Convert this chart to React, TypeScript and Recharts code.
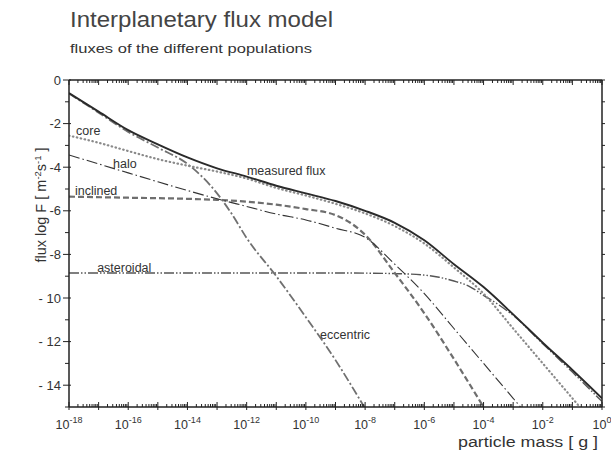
import React from "react";
import { LineChart, Line, XAxis, YAxis, ReferenceDot } from "recharts";

// log10 of particle mass [g] and log10 flux values
const measuredMass = [-18, -17, -16, -15, -14, -13, -12, -11, -10, -9, -8, -7, -6, -5, -4, -3, -2, -1, 0];
const measuredFlux = [-0.6, -1.45, -2.3, -2.95, -3.55, -4.05, -4.43, -4.85, -5.2, -5.55, -6.0, -6.55, -7.35, -8.45, -9.5, -10.75, -12.05, -13.3, -14.6];

const coreMass = [-18, -17, -16, -15, -14, -13, -12, -11, -10, -9, -8, -7, -6, -5, -4, -3, -2, -1, -0.75];
const coreFlux = [-2.55, -2.88, -3.26, -3.63, -3.93, -4.2, -4.52, -4.95, -5.3, -5.68, -6.12, -6.7, -7.5, -8.6, -9.8, -11.4, -13.0, -14.6, -15];

const haloMass = [-18, -17, -16, -15, -14, -13, -12, -11, -10, -9, -8, -7, -6, -5, -4, -3, -2.75];
const haloFlux = [-3.44, -3.85, -4.26, -4.67, -5.07, -5.45, -5.8, -6.15, -6.42, -6.8, -7.22, -8.45, -9.8, -11.4, -13.0, -14.6, -15];

const inclinedMass = [-18, -16, -14, -13, -12, -11, -10, -9, -8.5, -8, -7, -6, -5, -4];
const inclinedFlux = [-5.35, -5.4, -5.45, -5.5, -5.58, -5.72, -5.92, -6.2, -6.55, -7.1, -8.85, -10.7, -12.8, -15];

const asteroidalMass = [-18, -14, -10, -8, -7, -6, -5.5, -5, -4.5, -4, -3.5, -3, -2, -1, 0];
const asteroidalFlux = [-8.85, -8.85, -8.85, -8.86, -8.88, -8.95, -9.05, -9.22, -9.45, -9.88, -10.3, -10.8, -12.1, -13.4, -14.75];

const eccentricMass = [-18, -17, -16, -15, -14, -13, -12.5, -12, -11, -10, -9, -8.03];
const eccentricFlux = [-0.62, -1.5, -2.38, -3.1, -3.85, -5.2, -6.15, -7.25, -9.0, -10.88, -12.85, -15];

const xDecadeLabels = [-18, -16, -14, -12, -10, -8, -6, -4, -2, 0];
const yTickLabels = [0, -2, -4, -6, -8, -10, -12, -14];
const yMinorTicks = [0, -1, -2, -3, -4, -5, -6, -7, -8, -9, -10, -11, -12, -13, -14, -15];

const xMinorTicks: number[] = [];
for (let n = -18; n < 0; n++) {
  for (let k = 1; k <= 9; k++) xMinorTicks.push(n + Math.log10(k));
}
xMinorTicks.push(0);

const toPts = (xs: number[], ys: number[]) => xs.map((x, i) => ({ x, y: ys[i] }));

const FONT = "'Liberation Sans', Arial, sans-serif";
const TXT = "#333";

const XTick = (props: any) => {
  const { x, y, payload, side } = props;
  const v = payload.value as number;
  const dec = Math.round(v);
  const isDecade = Math.abs(v - dec) < 1e-6;
  const len = isDecade ? 5 : 3;
  const labeled = isDecade && xDecadeLabels.includes(dec);
  if (side === "top") {
    return <line x1={x} y1={y} x2={x} y2={y + len} stroke="#222" strokeWidth={1} />;
  }
  return (
    <g>
      <line x1={x} y1={y - len} x2={x} y2={y + (isDecade ? 3 : 0)} stroke="#222" strokeWidth={1} />
      {labeled && (
        <text x={x} y={y + 22} textAnchor="middle" fontFamily={FONT} fontSize={12.5} fill={TXT}>
          10
          <tspan dy={-6} fontSize={9}>{dec === 0 ? "0" : "-" + Math.abs(dec)}</tspan>
        </text>
      )}
    </g>
  );
};

const YTickLeft = (props: any) => {
  const { x, y, payload } = props;
  const v = payload.value as number;
  const labeled = yTickLabels.includes(v);
  const label = v === 0 ? "0" : v <= -10 ? "- " + Math.abs(v) : "-" + Math.abs(v);
  return (
    <g>
      <line x1={x - (labeled ? 6 : 4)} y1={y} x2={x + (labeled ? 2 : 0)} y2={y} stroke="#222" strokeWidth={1} />
      {labeled && (
        <text x={x - 8} y={y + 4.5} textAnchor="end" fontFamily={FONT} fontSize={13} fill={TXT}>
          {label}
        </text>
      )}
    </g>
  );
};

const YTickRight = (props: any) => {
  const { x, y } = props;
  return <line x1={x} y1={y} x2={x + 3} y2={y} stroke="#222" strokeWidth={1} />;
};

const labelShape = (text: string, size = 12.5) => (p: any) => (
  <text x={p.cx} y={p.cy} fontFamily={FONT} fontSize={size} fill="#333">
    {text}
  </text>
);

export default function App() {
  return (
    <div style={{ position: "absolute", left: 0, top: 0, width: 611, height: 457, background: "#fff" }}>
      <LineChart width={611} height={457} margin={{ top: 75, left: 29, right: 4, bottom: 20 }}>
        <XAxis
          xAxisId="0"
          type="number"
          dataKey="x"
          domain={[-18, 0]}
          allowDataOverflow
          ticks={xMinorTicks}
          interval={0}
          height={30}
          tickSize={0}
          tickMargin={0}
          tickLine={false}
          axisLine={{ stroke: "#222", strokeWidth: 1.5 }}
          tick={(p: any) => <XTick {...p} side="bottom" />}
        />
        <XAxis
          xAxisId="top"
          orientation="top"
          type="number"
          dataKey="x"
          domain={[-18, 0]}
          allowDataOverflow
          ticks={xMinorTicks}
          interval={0}
          height={5}
          tickSize={0}
          tickMargin={0}
          tickLine={false}
          axisLine={{ stroke: "#222", strokeWidth: 1.5 }}
          tick={(p: any) => <XTick {...p} side="top" />}
        />
        <YAxis
          yAxisId="0"
          type="number"
          domain={[-15, 0]}
          allowDataOverflow
          ticks={yMinorTicks}
          interval={0}
          width={40}
          tickSize={0}
          tickMargin={0}
          tickLine={false}
          axisLine={{ stroke: "#222", strokeWidth: 1.5 }}
          tick={(p: any) => <YTickLeft {...p} />}
        />
        <YAxis
          yAxisId="right"
          orientation="right"
          type="number"
          domain={[-15, 0]}
          allowDataOverflow
          ticks={yMinorTicks}
          interval={0}
          width={5}
          tickSize={0}
          tickMargin={0}
          tickLine={false}
          axisLine={{ stroke: "#222", strokeWidth: 1.5 }}
          tick={(p: any) => <YTickRight {...p} />}
        />
        <Line data={toPts(asteroidalMass, asteroidalFlux)} dataKey="y" type="monotone" dot={false} isAnimationActive={false}
          stroke="#555" strokeWidth={1.4} strokeDasharray="10 2 1.5 2 1.5 2" xAxisId="0" yAxisId="0" />
        <Line data={toPts(inclinedMass, inclinedFlux)} dataKey="y" type="monotone" dot={false} isAnimationActive={false}
          stroke="#6e6e6e" strokeWidth={2.2} strokeDasharray="6 3" xAxisId="0" yAxisId="0" />
        <Line data={toPts(haloMass, haloFlux)} dataKey="y" type="monotone" dot={false} isAnimationActive={false}
          stroke="#333" strokeWidth={1.1} strokeDasharray="11 3 1.5 3" xAxisId="0" yAxisId="0" />
        <Line data={toPts(eccentricMass, eccentricFlux)} dataKey="y" type="monotone" dot={false} isAnimationActive={false}
          stroke="#707070" strokeWidth={1.8} strokeDasharray="9 2.5 2 2.5" xAxisId="0" yAxisId="0" />
        <Line data={toPts(coreMass, coreFlux)} dataKey="y" type="monotone" dot={false} isAnimationActive={false}
          stroke="#8a8a8a" strokeWidth={2.2} strokeDasharray="0.5 3.5" strokeLinecap="round" xAxisId="0" yAxisId="0" />
        <Line data={toPts(measuredMass, measuredFlux)} dataKey="y" type="monotone" dot={false} isAnimationActive={false}
          stroke="#2a2a2a" strokeWidth={1.9} xAxisId="0" yAxisId="0" />
        <ReferenceDot x={-17.76} y={-2.52} r={0} ifOverflow="visible" shape={labelShape("core")} />
        <ReferenceDot x={-16.51} y={-4.04} r={0} ifOverflow="visible" shape={labelShape("halo")} />
        <ReferenceDot x={-17.8} y={-5.28} r={0} ifOverflow="visible" shape={labelShape("inclined")} />
        <ReferenceDot x={-17.05} y={-8.81} r={0} ifOverflow="visible" shape={labelShape("asteroidal")} />
        <ReferenceDot x={-11.99} y={-4.36} r={0} ifOverflow="visible" shape={labelShape("measured flux")} />
        <ReferenceDot x={-9.52} y={-11.88} r={0} ifOverflow="visible" shape={labelShape("eccentric")} />
      </LineChart>
      <svg width={611} height={457} style={{ position: "absolute", left: 0, top: 0, pointerEvents: "none" }}>
        <text x={70} y={27} fontFamily={FONT} fontSize={22} fill="#444" textLength={263} lengthAdjust="spacingAndGlyphs">
          Interplanetary flux model
        </text>
        <text x={70} y={53} fontFamily={FONT} fontSize={13.5} fill="#333" textLength={242} lengthAdjust="spacingAndGlyphs">
          fluxes of the different populations
        </text>
        <text x={598} y={447} textAnchor="end" fontFamily={FONT} fontSize={14} fill="#333" textLength={140} lengthAdjust="spacingAndGlyphs">
          particle mass [ g ]
        </text>
        <text transform="rotate(-90 46 205)" x={46} y={205} textAnchor="middle" fontFamily={FONT} fontSize={14.5} fill="#333">
          flux log F [ m
          <tspan dy={-5} fontSize={9.5}>-2</tspan>
          <tspan dy={5}>s</tspan>
          <tspan dy={-5} fontSize={9.5}>-1</tspan>
          <tspan dy={5}> ]</tspan>
        </text>
      </svg>
    </div>
  );
}
